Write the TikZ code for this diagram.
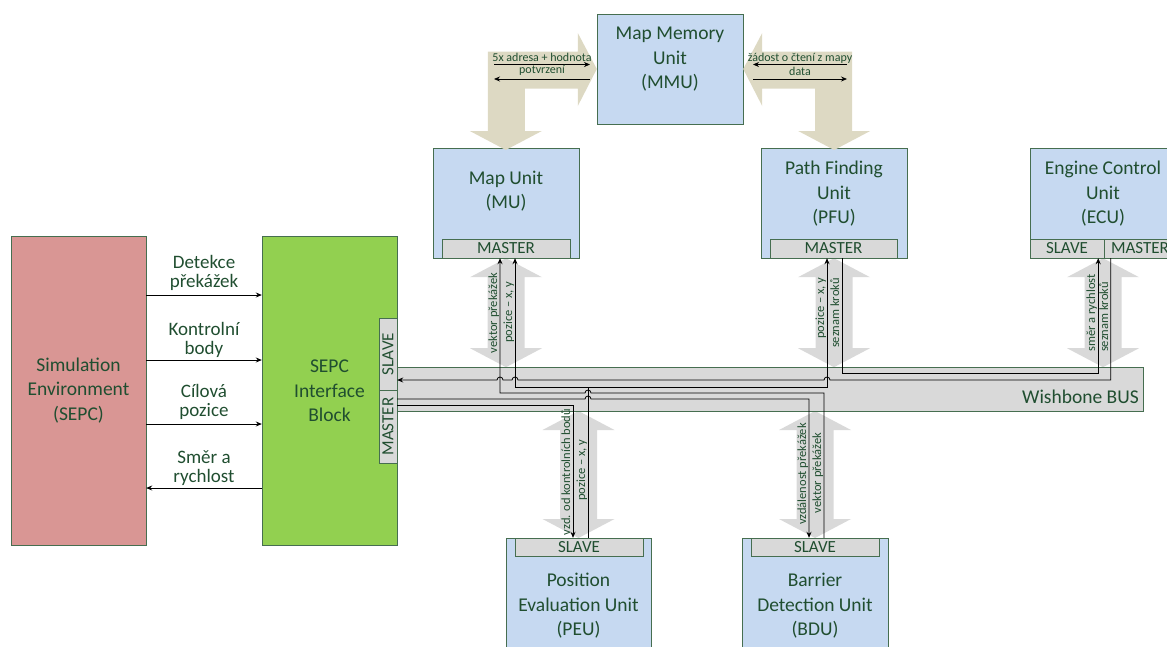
\documentclass[tikz,border=0pt]{standalone}
\usepackage{fontspec}
\setmainfont{Carlito}
\usetikzlibrary{arrows.meta}
\definecolor{unitblue}{RGB}{198,217,241}
\definecolor{simred}{RGB}{217,150,148}
\definecolor{sepcgreen}{RGB}{146,208,80}
\definecolor{busgrey}{RGB}{217,217,217}
\definecolor{mmuolive}{RGB}{221,217,195}
\definecolor{edgegreen}{RGB}{70,110,80}
\definecolor{txtgreen}{RGB}{32,78,48}
\newcommand{\busarrow}[3]{\fill[#3] (#1) -- ++(36,-19) -- ++(-17.5,0) -- ++(0,-#2+38) -- ++(17.5,0) -- ++(-36,-19) -- ++(-36,19) -- ++(17.5,0) -- ++(0,#2-38) -- ++(-17.5,0) -- cycle;}
\begin{document}
\begin{tikzpicture}[>={Stealth[length=6pt,width=5pt]},x=1pt,y=1pt,
	every node/.style={text=txtgreen,inner sep=0pt},
	unit/.style={draw=edgegreen,fill=unitblue,minimum width=146,minimum height=110},
	bigtxt/.style={align=center,font=\fontsize{19.5}{24.5}\selectfont},
	arrtxt/.style={align=center,font=\fontsize{19}{19.5}\selectfont},
	port/.style={draw=edgegreen,fill=busgrey,font=\fontsize{17}{18}\selectfont},
	sig/.style={font=\fontsize{12.5}{13}\selectfont,rotate=90,anchor=base},
	small/.style={font=\fontsize{12}{13}\selectfont},
	wire/.style={line width=0.8pt}]
	\useasboundingbox (0,0) rectangle (1167,-646);
	\clip (0,0) rectangle (1167,-646);
	\node[unit] (mmu) at (670,-69) {};
	\node[unit] (mu) at (506,-203) {};
	\node[unit] (pfu) at (834,-203) {};
	\node[unit] (ecu) at (1103,-203) {};
	\node[unit,minimum width=145] (peu) at (578.5,-593) {};
	\node[unit] (bdu) at (815,-593) {};
	\node[draw=edgegreen,fill=simred,minimum width=135,minimum height=309] (sim) at (78.5,-390.5) {};
	\node[draw=edgegreen,fill=sepcgreen,minimum width=135,minimum height=309] (sepc) at (329.5,-390.5) {};
	\fill[mmuolive] (mmu.west) -- ++(-19,36) -- ++(0,-18.5) -- ++(-90,0) -- ++(0,-79.5) -- ++(-18,0) -- ++(36,-19) -- ++(36,19) -- ++(-17,0) -- ++(0,42.5) -- ++(53,0) -- ++(0,-17.5) -- cycle;
	\fill[mmuolive] (mmu.east) -- ++(19,36) -- ++(0,-18.5) -- ++(90,0) -- ++(0,-79.5) -- ++(18,0) -- ++(-36,-19) -- ++(-36,19) -- ++(17,0) -- ++(0,42.5) -- ++(-53,0) -- ++(0,-17.5) -- cycle;
	\busarrow{mu.south}{109}{busgrey}
	\busarrow{pfu.south}{109}{busgrey}
	\busarrow{ecu.south}{109}{busgrey}
	\busarrow{578.5,-411}{127}{busgrey}
	\busarrow{815,-411}{127}{busgrey}
	\node[draw=edgegreen,fill=busgrey,minimum width=746,minimum height=44] (bus) at (770,-389) {};
	\node[port,minimum width=128,minimum height=19] (mumaster) at (506,-248.5) {MASTER};
	\node[port,minimum width=127,minimum height=19] (pfumaster) at (833.5,-248.5) {MASTER};
	\node[port,minimum width=74,minimum height=19] (ecuslave) at (1067,-248.5) {SLAVE};
	\node[port,minimum width=72,minimum height=19] (ecumaster) at (1140,-248.5) {MASTER};
	\node[port,minimum width=128,minimum height=18] (peuslave) at (579,-547) {SLAVE};
	\node[port,minimum width=128,minimum height=18] (bduslave) at (815,-547) {SLAVE};
	\node[port,rotate=90,minimum width=72,minimum height=18] (sepcslave) at (388,-354) {SLAVE};
	\node[port,rotate=90,minimum width=73,minimum height=18] (sepcmaster) at (388,-426.5) {MASTER};
	\node[bigtxt] (simtxt) at (sim) {Simulation\\Environment\\(SEPC)};
	\node[bigtxt] (sepctxt) at (329.5,-391) {SEPC\\Interface\\Block};
	\node[bigtxt] (mmutxt) at (670,-59.5) {Map Memory\\Unit\\(MMU)};
	\node[bigtxt] (mutxt) at (506,-191) {Map Unit\\(MU)};
	\node[bigtxt] (pfutxt) at (834,-194) {Path Finding\\Unit\\(PFU)};
	\node[bigtxt] (ecutxt) at (1103,-194) {Engine Control\\Unit\\(ECU)};
	\node[bigtxt] (peutxt) at (578.5,-606) {Position\\Evaluation Unit\\(PEU)};
	\node[bigtxt] (bdutxt) at (815,-606) {Barrier\\Detection Unit\\(BDU)};
	\node[bigtxt,anchor=east] (bustxt) at (1139,-397) {Wishbone BUS};
	\coordinate (mu-in1) at ([xshift=-6]mumaster.south);
	\coordinate (mu-in2) at ([xshift=9]mumaster.south);
	\coordinate (pfu-in) at ([xshift=-6.5]pfumaster.south);
	\coordinate (pfu-out) at ([xshift=8.5]pfumaster.south);
	\coordinate (ecu-in) at ([xshift=-6]ecuslave.south east);
	\coordinate (ecu-out) at ([xshift=7]ecumaster.south west);
	\coordinate (sepc-in) at ([yshift=10.5]sepc.east);
	\coordinate (sepc-out1) at ([yshift=-8.5]sepc.east);
	\coordinate (sepc-out2) at ([yshift=-14.5]sepc.east);
	\coordinate (peu-in) at ([xshift=-6]peuslave.north);
	\coordinate (peu-out) at ([xshift=9]peuslave.north);
	\coordinate (bdu-in) at ([xshift=-6]bduslave.north);
	\coordinate (bdu-out) at ([xshift=9]bduslave.north);
	\coordinate (pos-split) at (588,-387);
	\draw[wire,->] (ecu-out) |- (830,-380) arc[start angle=0,end angle=180,radius=3] -- (518,-380) arc[start angle=0,end angle=180,radius=3] -- (503,-380) arc[start angle=0,end angle=180,radius=3] -- (sepc-in);
	\draw[wire,->] (pfu-out) -- ++(0,-115) -| (ecu-in);
	\draw[wire] (peu-out) -- (pos-split);
	\draw[wire,->] (pos-split) -| (mu-in2);
	\draw[wire,->] (pos-split) -| (pfu-in);
	\draw[wire,->] (bdu-out) |- (591,-393) arc[start angle=0,end angle=180,radius=3] -| (mu-in1);
	\draw[wire,->] (sepc-out1) -- (585,-399) arc[start angle=180,end angle=0,radius=3] -| (bdu-in);
	\draw[wire,->] (sepc-out2) -| (peu-in);
	\node[sig] (mulab1) at (497,-313) {vektor překážek};
	\node[sig] (mulab2) at (512,-312) {pozice – x, y};
	\node[sig] (pfulab1) at (824,-308) {pozice – x, y};
	\node[sig] (pfulab2) at (839,-313) {seznam kroků};
	\node[sig] (eculab1) at (1095,-313) {směr a rychlost};
	\node[sig] (eculab2) at (1108,-317) {seznam kroků};
	\node[sig] (peulab1) at (570,-472) {vzd. od kontrolních bodů};
	\node[sig] (peulab2) at (585,-470) {pozice – x, y};
	\node[sig] (bdulab1) at (806,-474) {vzdálenost překážek};
	\node[sig] (bdulab2) at (821,-473) {vektor překážek};
	\coordinate (mmu-l1) at (494,-64.5);
	\coordinate (mmu-l2) at (590,-64.5);
	\coordinate (mmu-l3) at (494,-79);
	\coordinate (mmu-l4) at (590,-79);
	\coordinate (mmu-r1) at (753,-64.5);
	\coordinate (mmu-r2) at (847,-64.5);
	\coordinate (mmu-r3) at (753,-79);
	\coordinate (mmu-r4) at (847,-79);
	\draw[wire,->] (mmu-l1) -- node[small,above=3pt] {5x adresa + hodnota} (mmu-l2);
	\draw[wire,->] (mmu-l4) -- node[small,above=3pt] {potvrzení} (mmu-l3);
	\draw[wire,->] (mmu-r2) -- node[small,above=1pt] {žádost o čtení z mapy} (mmu-r1);
	\draw[wire,->] (mmu-r3) -- node[small,above=3pt] {data} (mmu-r4);
	\draw[wire,->] ([yshift=95.5]sim.east) -- node[arrtxt,above=4pt] {Detekce\\překážek} ([yshift=95.5]sepc.west);
	\draw[wire,->] ([yshift=30.5]sim.east) -- node[arrtxt,above=2pt] {Kontrolní\\body} ([yshift=30.5]sepc.west);
	\draw[wire,->] ([yshift=-33.5]sim.east) -- node[arrtxt,above=4pt] {Cílová\\pozice} ([yshift=-33.5]sepc.west);
	\draw[wire,->] ([yshift=-97.5]sepc.west) -- node[arrtxt,above=2pt] {Směr a\\rychlost} ([yshift=-97.5]sim.east);
\end{tikzpicture}
\end{document}
